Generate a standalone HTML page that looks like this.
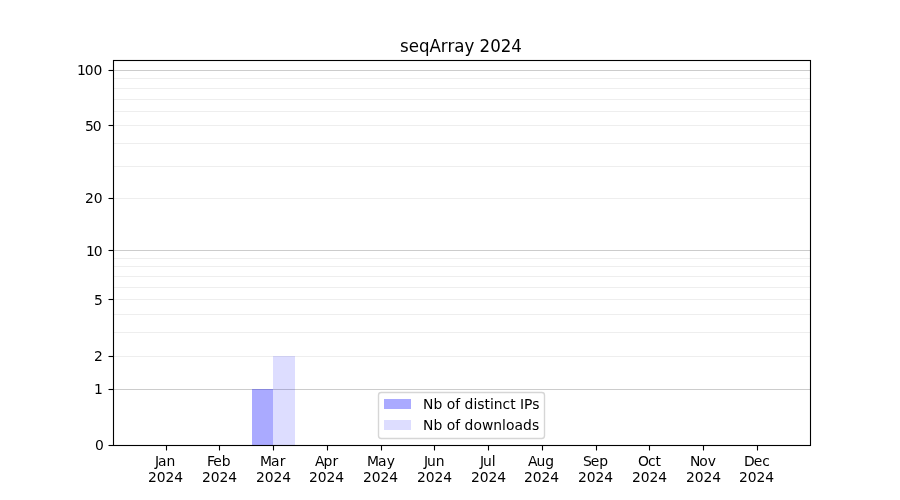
<!DOCTYPE html>
<html lang="en">
<head>
<meta charset="utf-8">
<title>seqArray 2024</title>
<style>
html,body{margin:0;padding:0;background:#fff;}
body{width:900px;height:500px;overflow:hidden;}
svg{display:block;}
text{font-family:"DejaVu Sans","Liberation Sans",sans-serif;fill:#000;}
</style>
</head>
<body>
<svg width="900" height="500" viewBox="0 0 900 500">
<rect x="0" y="0" width="900" height="500" fill="#ffffff"/>
<g stroke-width="1.111" fill="none">
<line x1="113" x2="810.5" y1="70.5" y2="70.5" stroke="#cccccc"/>
<line x1="113" x2="810.5" y1="250.5" y2="250.5" stroke="#cccccc"/>
<line x1="113" x2="810.5" y1="389.5" y2="389.5" stroke="#cccccc"/>
<line x1="113" x2="810.5" y1="78.5" y2="78.5" stroke="#eeeeee"/>
<line x1="113" x2="810.5" y1="88.5" y2="88.5" stroke="#eeeeee"/>
<line x1="113" x2="810.5" y1="99.5" y2="99.5" stroke="#eeeeee"/>
<line x1="113" x2="810.5" y1="111.5" y2="111.5" stroke="#eeeeee"/>
<line x1="113" x2="810.5" y1="125.5" y2="125.5" stroke="#eeeeee"/>
<line x1="113" x2="810.5" y1="143.5" y2="143.5" stroke="#eeeeee"/>
<line x1="113" x2="810.5" y1="166.5" y2="166.5" stroke="#eeeeee"/>
<line x1="113" x2="810.5" y1="198.5" y2="198.5" stroke="#eeeeee"/>
<line x1="113" x2="810.5" y1="258.5" y2="258.5" stroke="#eeeeee"/>
<line x1="113" x2="810.5" y1="266.5" y2="266.5" stroke="#eeeeee"/>
<line x1="113" x2="810.5" y1="276.5" y2="276.5" stroke="#eeeeee"/>
<line x1="113" x2="810.5" y1="287.5" y2="287.5" stroke="#eeeeee"/>
<line x1="113" x2="810.5" y1="299.5" y2="299.5" stroke="#eeeeee"/>
<line x1="113" x2="810.5" y1="314.5" y2="314.5" stroke="#eeeeee"/>
<line x1="113" x2="810.5" y1="332.5" y2="332.5" stroke="#eeeeee"/>
<line x1="113" x2="810.5" y1="356.5" y2="356.5" stroke="#eeeeee"/>
</g>
<rect x="252" y="389" width="21" height="56.5" fill="#0000ff" fill-opacity="0.3333"/>
<rect x="273" y="356" width="22" height="89.5" fill="#0000ff" fill-opacity="0.1333"/>
<g stroke="#000" stroke-width="1.111" fill="none">
<line x1="166.5" x2="166.5" y1="445.5" y2="450.5"/>
<line x1="219.5" x2="219.5" y1="445.5" y2="450.5"/>
<line x1="273.5" x2="273.5" y1="445.5" y2="450.5"/>
<line x1="327.5" x2="327.5" y1="445.5" y2="450.5"/>
<line x1="381.5" x2="381.5" y1="445.5" y2="450.5"/>
<line x1="434.5" x2="434.5" y1="445.5" y2="450.5"/>
<line x1="488.5" x2="488.5" y1="445.5" y2="450.5"/>
<line x1="542.5" x2="542.5" y1="445.5" y2="450.5"/>
<line x1="596.5" x2="596.5" y1="445.5" y2="450.5"/>
<line x1="649.5" x2="649.5" y1="445.5" y2="450.5"/>
<line x1="703.5" x2="703.5" y1="445.5" y2="450.5"/>
<line x1="757.5" x2="757.5" y1="445.5" y2="450.5"/>
<line x1="108.5" x2="113" y1="70.5" y2="70.5"/>
<line x1="108.5" x2="113" y1="125.5" y2="125.5"/>
<line x1="108.5" x2="113" y1="198.5" y2="198.5"/>
<line x1="108.5" x2="113" y1="250.5" y2="250.5"/>
<line x1="108.5" x2="113" y1="299.5" y2="299.5"/>
<line x1="108.5" x2="113" y1="356.5" y2="356.5"/>
<line x1="108.5" x2="113" y1="389.5" y2="389.5"/>
<line x1="108.5" x2="113" y1="445.5" y2="445.5"/>
<rect x="113.5" y="60.5" width="697" height="385"/>
</g>
<rect x="378.5" y="392.5" width="166" height="46" rx="2.78" ry="2.78" fill="#ffffff" fill-opacity="0.8" stroke="#cccccc" stroke-opacity="0.8" stroke-width="1.389"/>
<rect x="384" y="399" width="27" height="10" fill="#0000ff" fill-opacity="0.3333"/>
<rect x="384" y="420" width="27" height="10" fill="#0000ff" fill-opacity="0.1333"/>
<text font-size="13.889" transform="translate(76.875,75) scale(1,1)" x="0 7.875 16.625">100</text>
<text font-size="14.05" transform="translate(85,131) scale(0.9885,1)" x="0 7.8398">50</text>
<text font-size="14.05" transform="translate(85,203) scale(0.9885,1)" x="0 8.8514">20</text>
<text font-size="14.2" transform="translate(85.875,256) scale(0.9781,1)" x="0 8.0513">10</text>
<text font-size="14.65" transform="translate(93.875,305) scale(0.9481,1)" x="0">5</text>
<text font-size="14.65" transform="translate(93.875,361) scale(0.9481,1)" x="0">2</text>
<text font-size="14.2" transform="translate(93.875,394) scale(0.9781,1)" x="0">1</text>
<text font-size="14.05" transform="translate(94.875,450) scale(0.9885,1)" x="0">0</text>
<text font-size="14.8" transform="translate(155,466) scale(0.9384,1)" x="0 3.1968 12.3875">Jan</text>
<text font-size="14.5" transform="translate(148,482) scale(0.9579,1)" x="0 9.1349 18.2699 27.4048">2024</text>
<text font-size="14.65" transform="translate(207,466) scale(0.9481,1)" x="0 6.5924 15.5582">Feb</text>
<text font-size="14.5" transform="translate(202,482) scale(0.9579,1)" x="0 9.1349 18.2699 27.4048">2024</text>
<text font-size="13.889" transform="translate(260,466) scale(1,1)" x="0 11 19.625">Mar</text>
<text font-size="14.5" transform="translate(256,482) scale(0.9579,1)" x="0 9.1349 18.2699 27.4048">2024</text>
<text font-size="13.889" transform="translate(315,466) scale(1,1)" x="0 8.5 17.375">Apr</text>
<text font-size="14.5" transform="translate(309,482) scale(0.9579,1)" x="0 9.1349 18.2699 27.4048">2024</text>
<text font-size="13.889" transform="translate(367,466) scale(1,1)" x="0 11 19.625">May</text>
<text font-size="14.5" transform="translate(363,482) scale(0.9579,1)" x="0 9.1349 18.2699 27.4048">2024</text>
<text font-size="14.5" transform="translate(424,466) scale(0.9579,1)" x="0 3.132 12.2669">Jun</text>
<text font-size="14.5" transform="translate(417,482) scale(0.9579,1)" x="0 9.1349 18.2699 27.4048">2024</text>
<text font-size="14.5" transform="translate(480,466) scale(0.9579,1)" x="0 3.132 12.2669">Jul</text>
<text font-size="14.5" transform="translate(471,482) scale(0.9579,1)" x="0 9.1349 18.2699 27.4048">2024</text>
<text font-size="13.889" transform="translate(527.875,466) scale(1,1)" x="0 8.5 17.25">Aug</text>
<text font-size="14.5" transform="translate(524,482) scale(0.9579,1)" x="0 9.1349 18.2699 27.4048">2024</text>
<text font-size="14.8" transform="translate(583,466) scale(0.9384,1)" x="0 8.2583 17.3159">Sep</text>
<text font-size="14.5" transform="translate(578,482) scale(0.9579,1)" x="0 9.1349 18.2699 27.4048">2024</text>
<text font-size="13.889" transform="translate(638,466) scale(1,1)" x="0 9.875 17.5">Oct</text>
<text font-size="14.5" transform="translate(632,482) scale(0.9579,1)" x="0 9.1349 18.2699 27.4048">2024</text>
<text font-size="13.889" transform="translate(689.875,466) scale(1,1)" x="0 9.375 17.875">Nov</text>
<text font-size="14.5" transform="translate(686,482) scale(0.9579,1)" x="0 9.1349 18.2699 27.4048">2024</text>
<text font-size="14.2" transform="translate(744,466) scale(0.9781,1)" x="0 9.9683 18.6587">Dec</text>
<text font-size="14.5" transform="translate(739,482) scale(0.9579,1)" x="0 9.1349 18.2699 27.4048">2024</text>
<text font-size="17.4002" transform="translate(400,52) scale(0.9579,1)" x="0 9.1349 19.8358 30.7978 42.6732 49.5896 56.767 67.3375 77.6469 83.1278 94.2202 105.1822 116.2746">seqArray 2024</text>
<text font-size="13.889" transform="translate(423,409) scale(1,1)" x="0 10.375 19.25 23.625 32.125 37.125 41.5 50.375 54.25 61.375 66.875 70.75 79.5 87.125 92.625 97 101 109.125">Nb of distinct IPs</text>
<text font-size="13.889" transform="translate(423,430) scale(1,1)" x="0 10.375 19.25 23.625 32.125 37.125 41.5 50.375 58.875 70.25 79 82.875 91.375 100 108.875">Nb of downloads</text>
</svg>
</body>
</html>
